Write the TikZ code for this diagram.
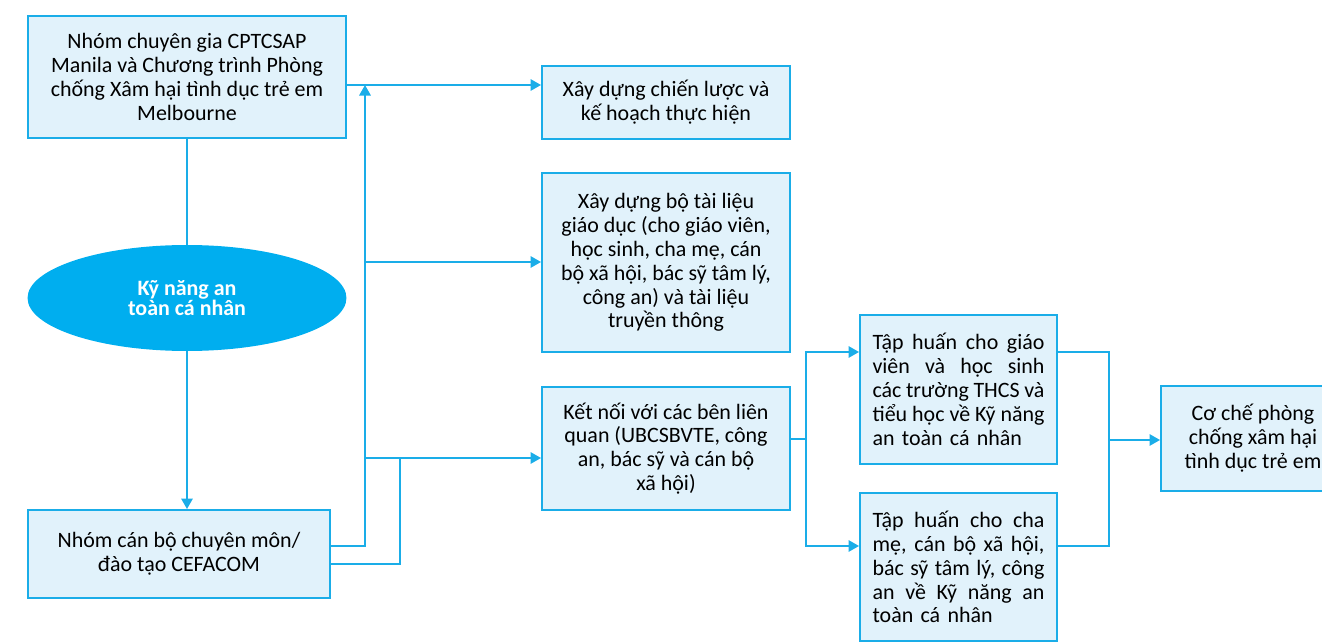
\documentclass[tikz,border=0pt]{standalone}
\usepackage{fontspec}
\setmainfont{Carlito}
\usetikzlibrary{positioning,arrows.meta,shapes.geometric}
\definecolor{cyanline}{HTML}{1AADE8}
\definecolor{boxfill}{HTML}{E1F2FB}
\definecolor{ovalfill}{HTML}{00AEEF}
\tikzset{
 box/.style={draw=cyanline, line width=1.1pt, fill=boxfill, align=center, inner sep=0pt,
   font=\fontsize{12.5}{13.6}\selectfont},
 oval/.style={ellipse, fill=ovalfill, text=white, align=center, inner sep=0pt,
   font=\bfseries\fontsize{12.5}{11.4}\selectfont},
 link/.style={cyanline, line width=1.1pt},
 arr/.style={link, -{Triangle[length=6pt,width=6.5pt]}}
}
\newcommand{\fullline}[1]{\leavevmode\hbox to\hsize{\spaceskip=0.25em plus 1fil minus 0.1em\relax #1}}

\begin{document}
\begin{tikzpicture}[x=0.02cm,y=-0.02cm]
\useasboundingbox (0,0) rectangle (1322,642);
\node[box, minimum width=6.36cm, minimum height=2.44cm] (cptcsap) at (187,77)
  {Nhóm chuyên gia CPTCSAP\\Manila và Chương trình Phòng\\chống Xâm hại tình dục trẻ em\\Melbourne};
\node[oval, minimum width=6.38cm, minimum height=2.12cm] (skill) at (187,298)
  {Kỹ năng an\\toàn cá nhân};
\node[box, minimum width=6.04cm, minimum height=1.76cm] (cefacom) at (179,554)
  {Nhóm cán bộ chuyên môn/\\đào tạo CEFACOM};
\node[box, minimum width=4.96cm, minimum height=1.46cm] (plan) at (666,102.5)
  {Xây dựng chiến lược và\\kế hoạch thực hiện};
\node[box, minimum width=4.96cm, minimum height=3.58cm] (docs) at (666,262.5)
  {Xây dựng bộ tài liệu\\giáo dục (cho giáo viên,\\học sinh, cha mẹ, cán\\bộ xã hội, bác sỹ tâm lý,\\công an) và tài liệu\\truyền thông};
\node[box, minimum width=4.96cm, minimum height=2.46cm] (stake) at (666,448.5)
  {Kết nối với các bên liên\\quan (UBCSBVTE, công\\an, bác sỹ và cán bộ\\xã hội)};
\node[box, minimum width=3.94cm, minimum height=2.98cm, text width=3.44cm, align=left] (teach) at (958.5,389.5)
  {\fullline{Tập huấn cho giáo}\\\fullline{viên và học sinh}\\\fullline{các trường THCS và}\\\fullline{tiểu học về Kỹ năng}\\an toàn cá nhân};
\node[box, minimum width=3.94cm, minimum height=2.96cm, text width=3.44cm, align=left] (parent) at (958.5,567)
  {\fullline{Tập huấn cho cha}\\\fullline{mẹ, cán bộ xã hội,}\\\fullline{bác sỹ tâm lý, công}\\\fullline{an về Kỹ năng an}\\toàn cá nhân};
\node[box, minimum width=3.68cm, minimum height=2.1cm] (mech) at (1253,438.5)
  {Cơ chế phòng\\chống xâm hại\\tình dục trẻ em};

\coordinate (up) at (365,85);
\coordinate (mid) at (365,262);
\coordinate (low) at (365,458);
\coordinate (fork) at (400,458);
\coordinate (split) at (806,439);
\coordinate (join) at (1109,440);

\draw[link] (cptcsap) -- (skill);
\draw[arr] (skill.south) -- (skill.south |- cefacom.north);
\draw[arr] (cptcsap.east |- up) -- (plan.west |- up);
\draw[arr] (cefacom.east |- 0,546) -- (up |- 0,546) -- (up);
\draw[arr] (mid) -- (docs.west |- mid);
\draw[link] (cefacom.east |- 0,564) -- (fork |- 0,564) -- (fork);
\draw[arr] (low) -- (stake.west |- low);
\draw[link] (stake.east |- split) -- (split);
\draw[arr] (split) -- (split |- 0,352) -- (teach.west |- 0,352);
\draw[arr] (split) -- (split |- 0,546) -- (parent.west |- 0,546);
\draw[link] (teach.east |- 0,352) -- (join |- 0,352) -- (join |- 0,546) -- (parent.east |- 0,546);
\draw[arr] (join) -- (mech.west |- join);
\end{tikzpicture}
\end{document}
